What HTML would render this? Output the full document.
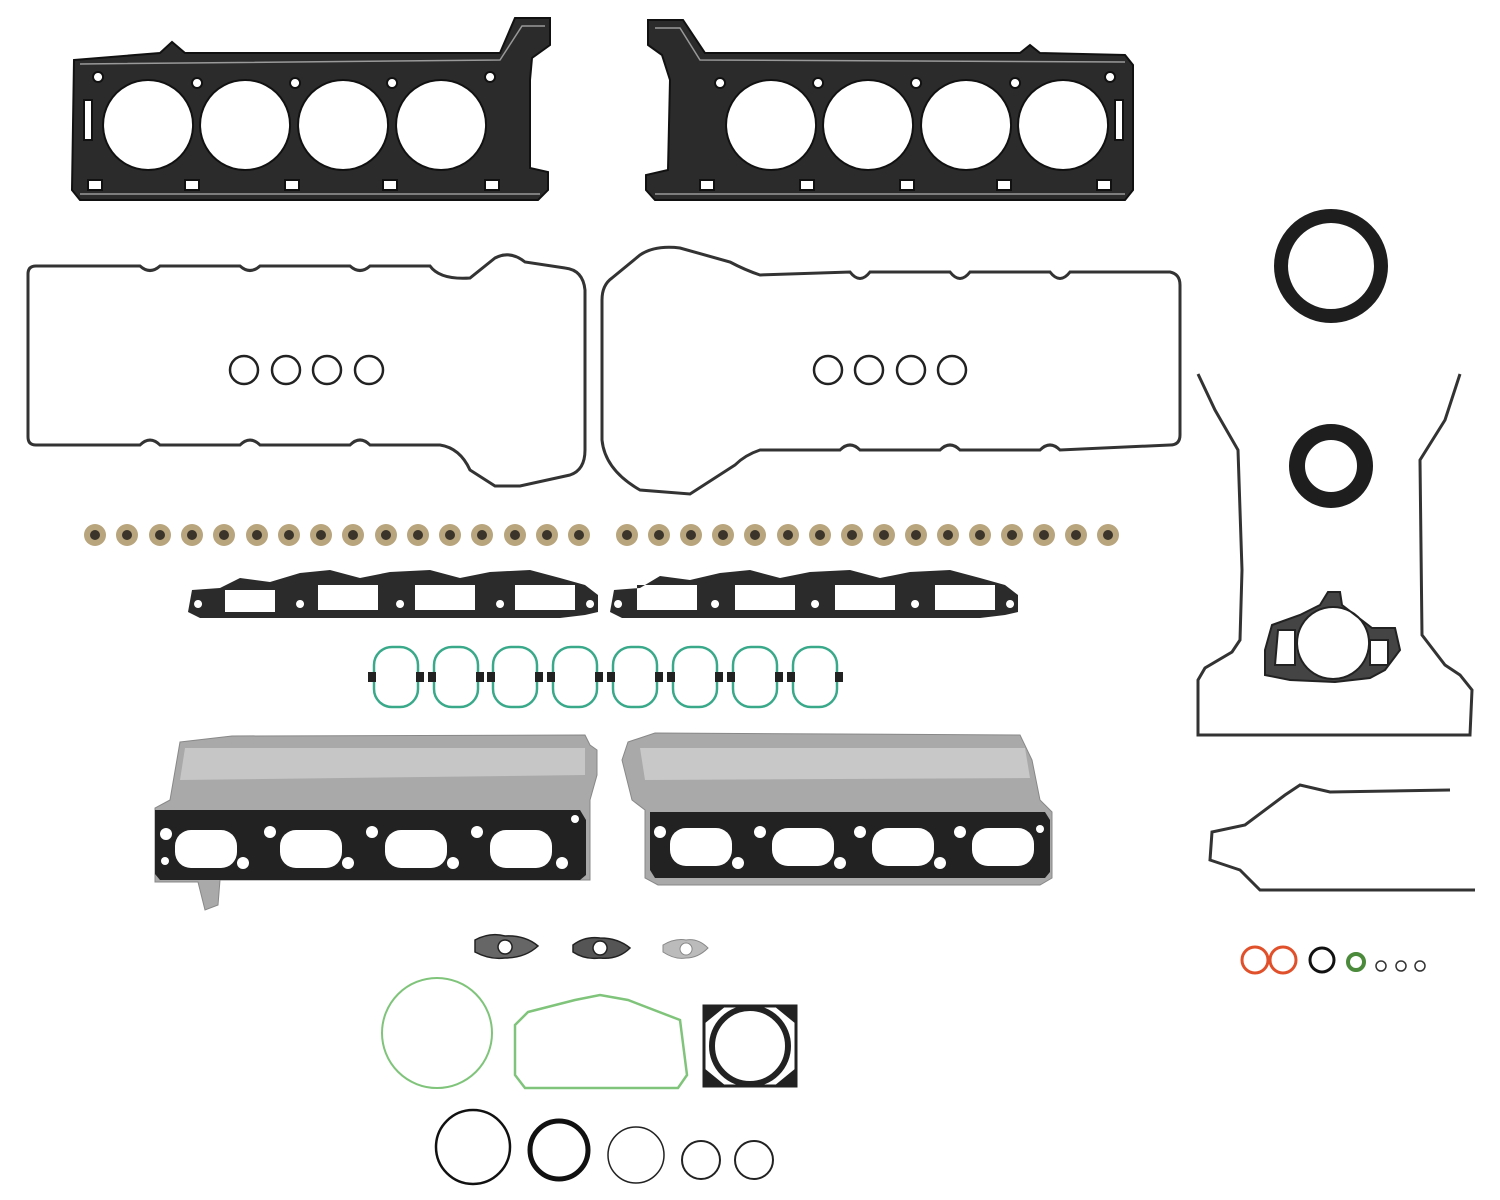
<!DOCTYPE html>
<html><head><meta charset="utf-8"><style>html,body{margin:0;padding:0;background:#fff;}svg{display:block}</style></head>
<body>
<svg width="1500" height="1200" viewBox="0 0 1500 1200" xmlns="http://www.w3.org/2000/svg">
<defs>
<g id="seal"><circle r="11" fill="#b8a57e"/><circle r="5" fill="#3a342a"/></g>
<g id="oring"><rect x="-22" y="-30" width="44" height="60" rx="18" fill="none" stroke="#3aa98a" stroke-width="2.5"/><rect x="-28" y="-5" width="8" height="10" fill="#222"/><rect x="20" y="-5" width="8" height="10" fill="#222"/></g>
</defs>

<!-- Head gasket left -->
<path fill-rule="evenodd" fill="#2b2b2b" stroke="#111" stroke-width="2" d="M74,60 L160,53 L172,42 L185,53 L500,53 L515,18 L550,18 L550,45 L532,58 L530,80 L530,168 L548,172 L548,190 L538,200 L80,200 L72,190 Z
M148,80 a45,45 0 1,0 0.1,0 Z M245,80 a45,45 0 1,0 0.1,0 Z M343,80 a45,45 0 1,0 0.1,0 Z M441,80 a45,45 0 1,0 0.1,0 Z
M84,100 h8 v40 h-8 Z M88,180 h14 v10 h-14 Z M185,180 h14 v10 h-14 Z M285,180 h14 v10 h-14 Z M383,180 h14 v10 h-14 Z M485,180 h14 v10 h-14 Z
M197,78 a5,5 0 1,0 0.1,0 Z M295,78 a5,5 0 1,0 0.1,0 Z M392,78 a5,5 0 1,0 0.1,0 Z M490,72 a5,5 0 1,0 0.1,0 Z M98,72 a5,5 0 1,0 0.1,0 Z"/>
<path fill="none" stroke="#999" stroke-width="1.5" d="M80,64 L500,60 L522,26 L545,26 M80,194 L540,194"/>
<!-- Head gasket right -->
<path fill-rule="evenodd" fill="#2b2b2b" stroke="#111" stroke-width="2" d="M648,20 L683,20 L705,53 L1020,53 L1030,45 L1040,53 L1125,55 L1133,65 L1133,190 L1125,200 L655,200 L646,190 L646,175 L668,170 L670,80 L662,55 L648,45 Z
M771,80 a45,45 0 1,0 0.1,0 Z M868,80 a45,45 0 1,0 0.1,0 Z M966,80 a45,45 0 1,0 0.1,0 Z M1063,80 a45,45 0 1,0 0.1,0 Z
M1115,100 h8 v40 h-8 Z M700,180 h14 v10 h-14 Z M800,180 h14 v10 h-14 Z M900,180 h14 v10 h-14 Z M997,180 h14 v10 h-14 Z M1097,180 h14 v10 h-14 Z
M720,78 a5,5 0 1,0 0.1,0 Z M818,78 a5,5 0 1,0 0.1,0 Z M916,78 a5,5 0 1,0 0.1,0 Z M1015,78 a5,5 0 1,0 0.1,0 Z M1110,72 a5,5 0 1,0 0.1,0 Z"/>
<path fill="none" stroke="#999" stroke-width="1.5" d="M655,28 L680,28 L700,60 L1125,62 M655,194 L1125,194"/>

<!-- Valve cover left -->
<path fill="none" stroke="#333" stroke-width="3" d="M36,266 L140,266 Q150,275 160,266 L240,266 Q250,275 260,266 L350,266 Q360,275 370,266 L430,266 Q440,280 470,278 L495,258 Q510,250 525,262 L565,268 Q583,270 585,290 L585,450 Q585,470 570,475 L520,486 L495,486 L470,470 Q460,448 440,445 L370,445 Q360,435 350,445 L260,445 Q250,435 240,445 L160,445 Q150,435 140,445 L36,445 Q28,445 28,437 L28,274 Q28,266 36,266 Z"/>
<circle cx="244" cy="370" r="14" fill="none" stroke="#222" stroke-width="2.5"/>
<circle cx="286" cy="370" r="14" fill="none" stroke="#222" stroke-width="2.5"/>
<circle cx="327" cy="370" r="14" fill="none" stroke="#222" stroke-width="2.5"/>
<circle cx="369" cy="370" r="14" fill="none" stroke="#222" stroke-width="2.5"/>
<!-- Valve cover right -->
<path fill="none" stroke="#333" stroke-width="3" d="M612,278 L640,255 Q655,245 680,248 L730,262 Q745,270 760,275 L850,272 Q860,285 870,272 L950,272 Q960,285 970,272 L1050,272 Q1060,285 1070,272 L1170,272 Q1180,274 1180,285 L1180,435 Q1180,445 1170,445 L1060,450 Q1050,440 1040,450 L960,450 Q950,440 940,450 L860,450 Q850,440 840,450 L760,450 Q745,455 735,465 L690,494 L640,490 Q605,470 602,440 L602,300 Q602,285 612,278 Z"/>
<circle cx="828" cy="370" r="14" fill="none" stroke="#222" stroke-width="2.5"/>
<circle cx="869" cy="370" r="14" fill="none" stroke="#222" stroke-width="2.5"/>
<circle cx="911" cy="370" r="14" fill="none" stroke="#222" stroke-width="2.5"/>
<circle cx="952" cy="370" r="14" fill="none" stroke="#222" stroke-width="2.5"/>

<!-- valve seals -->
<g>
<use href="#seal" x="95" y="535"/><use href="#seal" x="127" y="535"/><use href="#seal" x="160" y="535"/><use href="#seal" x="192" y="535"/><use href="#seal" x="224" y="535"/><use href="#seal" x="257" y="535"/><use href="#seal" x="289" y="535"/><use href="#seal" x="321" y="535"/><use href="#seal" x="353" y="535"/><use href="#seal" x="386" y="535"/><use href="#seal" x="418" y="535"/><use href="#seal" x="450" y="535"/><use href="#seal" x="482" y="535"/><use href="#seal" x="515" y="535"/><use href="#seal" x="547" y="535"/><use href="#seal" x="579" y="535"/>
<use href="#seal" x="627" y="535"/><use href="#seal" x="659" y="535"/><use href="#seal" x="691" y="535"/><use href="#seal" x="723" y="535"/><use href="#seal" x="755" y="535"/><use href="#seal" x="788" y="535"/><use href="#seal" x="820" y="535"/><use href="#seal" x="852" y="535"/><use href="#seal" x="884" y="535"/><use href="#seal" x="916" y="535"/><use href="#seal" x="948" y="535"/><use href="#seal" x="980" y="535"/><use href="#seal" x="1012" y="535"/><use href="#seal" x="1044" y="535"/><use href="#seal" x="1076" y="535"/><use href="#seal" x="1108" y="535"/>
</g>

<!-- intake gaskets -->
<path fill-rule="evenodd" fill="#2b2b2b" d="M192,590 L220,588 L240,578 L270,582 L300,573 L330,570 L360,578 L390,572 L430,570 L460,578 L490,572 L530,570 L560,578 L585,585 L598,595 L598,612 L585,615 L560,618 L200,618 L188,612 Z
M318,585 h60 v25 h-60 Z M415,585 h60 v25 h-60 Z M515,585 h60 v25 h-60 Z M225,590 h50 v22 h-50 Z M198,600 a4,4 0 1,0 .1,0 Z M590,600 a4,4 0 1,0 .1,0 Z M300,600 a4,4 0 1,0 .1,0 Z M400,600 a4,4 0 1,0 .1,0 Z M500,600 a4,4 0 1,0 .1,0 Z"/>
<path fill-rule="evenodd" fill="#2b2b2b" d="M614,590 L640,588 L660,576 L690,580 L720,573 L750,570 L780,578 L810,572 L850,570 L880,578 L910,572 L950,570 L980,578 L1005,585 L1018,595 L1018,612 L1005,615 L980,618 L622,618 L610,612 Z
M637,585 h60 v25 h-60 Z M735,585 h60 v25 h-60 Z M835,585 h60 v25 h-60 Z M935,585 h60 v25 h-60 Z M618,600 a4,4 0 1,0 .1,0 Z M1010,600 a4,4 0 1,0 .1,0 Z M715,600 a4,4 0 1,0 .1,0 Z M815,600 a4,4 0 1,0 .1,0 Z M915,600 a4,4 0 1,0 .1,0 Z"/>

<!-- green intake o-rings -->
<use href="#oring" x="396" y="677"/><use href="#oring" x="456" y="677"/><use href="#oring" x="515" y="677"/><use href="#oring" x="575" y="677"/><use href="#oring" x="635" y="677"/><use href="#oring" x="695" y="677"/><use href="#oring" x="755" y="677"/><use href="#oring" x="815" y="677"/>

<!-- exhaust heat shields -->
<path fill="#a9a9a9" stroke="#888" stroke-width="1" d="M180,742 L232,736 L585,735 L590,745 L597,750 L597,775 L590,800 L590,880 L220,880 L218,905 L205,910 L198,882 L155,882 L155,808 L170,800 Z"/>
<path fill="#c6c6c6" d="M185,748 L585,748 L585,775 L180,780 Z"/>
<path fill="#a9a9a9" stroke="#888" stroke-width="1" d="M628,742 L655,733 L1020,735 L1032,760 L1040,800 L1052,812 L1052,878 L1040,885 L658,885 L645,878 L645,810 L632,800 L622,760 Z"/>
<path fill="#c8c8c8" d="M640,748 L1025,748 L1030,778 L645,780 Z"/>
<path fill="#222" d="M155,810 L580,810 L586,820 L586,875 L580,880 L160,880 L155,874 Z"/>
<g fill="#fff">
<rect x="175" y="830" width="62" height="38" rx="16"/><rect x="280" y="830" width="62" height="38" rx="16"/><rect x="385" y="830" width="62" height="38" rx="16"/><rect x="490" y="830" width="62" height="38" rx="16"/>
<circle cx="166" cy="834" r="6"/><circle cx="270" cy="832" r="6"/><circle cx="372" cy="832" r="6"/><circle cx="477" cy="832" r="6"/><circle cx="243" cy="863" r="6"/><circle cx="348" cy="863" r="6"/><circle cx="453" cy="863" r="6"/><circle cx="562" cy="863" r="6"/><circle cx="575" cy="819" r="4"/><circle cx="165" cy="861" r="4"/>
</g>
<path fill="#222" d="M650,812 L1045,812 L1050,820 L1050,872 L1045,878 L655,878 L650,870 Z"/>
<g fill="#fff">
<rect x="670" y="828" width="62" height="38" rx="16"/><rect x="772" y="828" width="62" height="38" rx="16"/><rect x="872" y="828" width="62" height="38" rx="16"/><rect x="972" y="828" width="62" height="38" rx="16"/>
<circle cx="660" cy="832" r="6"/><circle cx="760" cy="832" r="6"/><circle cx="860" cy="832" r="6"/><circle cx="960" cy="832" r="6"/><circle cx="738" cy="863" r="6"/><circle cx="840" cy="863" r="6"/><circle cx="940" cy="863" r="6"/><circle cx="1040" cy="829" r="4"/>
</g>

<!-- small gaskets -->
<path fill-rule="evenodd" fill="#666" stroke="#222" stroke-width="1.5" d="M475,940 Q490,932 505,936 Q525,935 538,946 Q525,958 505,958 Q490,960 475,952 Z M505,940 a7,7 0 1,0 .1,0 Z"/>
<path fill-rule="evenodd" fill="#555" stroke="#222" stroke-width="1.5" d="M573,945 Q585,936 600,938 Q618,938 630,948 Q618,960 600,958 Q585,960 573,952 Z M600,941 a7,7 0 1,0 .1,0 Z"/>
<path fill-rule="evenodd" fill="#bbb" stroke="#888" stroke-width="1" d="M663,945 Q675,938 686,940 Q698,938 708,948 Q698,958 686,958 Q675,960 663,952 Z M686,943 a6,6 0 1,0 .1,0 Z"/>

<circle cx="437" cy="1033" r="55" fill="none" stroke="#7fc47a" stroke-width="2"/>
<path fill="none" stroke="#7fc47a" stroke-width="2.5" d="M528,1012 L575,1000 L600,995 L628,1000 L680,1020 L687,1075 L678,1088 L525,1088 L515,1075 L515,1025 Z"/>
<rect x="704" y="1006" width="92" height="80" fill="none" stroke="#222" stroke-width="3"/>
<path fill="#222" d="M704,1006 h22 l-22,18 Z M796,1006 h-22 l22,18 Z M704,1086 h22 l-22,-18 Z M796,1086 h-22 l22,-18 Z"/>
<circle cx="750" cy="1046" r="38" fill="none" stroke="#222" stroke-width="6"/>

<circle cx="473" cy="1147" r="37" fill="none" stroke="#111" stroke-width="2.5"/>
<circle cx="559" cy="1150" r="29" fill="none" stroke="#111" stroke-width="5"/>
<circle cx="636" cy="1155" r="28" fill="none" stroke="#222" stroke-width="1.5"/>
<circle cx="701" cy="1160" r="19" fill="none" stroke="#222" stroke-width="2"/>
<circle cx="754" cy="1160" r="19" fill="none" stroke="#222" stroke-width="2"/>

<!-- right side -->
<circle cx="1331" cy="266" r="50" fill="none" stroke="#1e1e1e" stroke-width="14"/>
<circle cx="1331" cy="466" r="34" fill="none" stroke="#1e1e1e" stroke-width="16"/>
<path fill="none" stroke="#333" stroke-width="3" d="M1198,374 L1215,410 L1238,450 L1242,570 L1240,640 L1232,652 L1205,668 L1198,680 L1198,735 L1470,735 L1472,690 L1460,675 L1445,665 L1422,635 L1420,460 L1445,420 L1460,374"/>
<path fill-rule="evenodd" fill="#444" stroke="#222" stroke-width="2" d="M1272,625 L1300,615 L1320,605 L1328,592 L1340,592 L1342,605 L1372,628 L1395,628 L1400,650 L1385,670 L1370,678 L1335,682 L1290,680 L1265,675 L1265,650 Z M1333,607 a36,36 0 1,0 .1,0 Z M1278,630 L1295,630 L1295,665 L1275,665 Z M1370,640 L1388,640 L1388,665 L1370,665 Z"/>
<path fill="none" stroke="#333" stroke-width="3" d="M1450,790 L1330,792 L1300,785 L1285,795 L1245,825 L1212,832 L1210,860 L1240,870 L1260,890 L1475,890"/>
<circle cx="1255" cy="960" r="13" fill="none" stroke="#e0502a" stroke-width="3"/>
<circle cx="1283" cy="960" r="13" fill="none" stroke="#e0502a" stroke-width="3"/>
<circle cx="1322" cy="960" r="12" fill="none" stroke="#111" stroke-width="3"/>
<circle cx="1356" cy="962" r="8" fill="none" stroke="#4a8a3a" stroke-width="4"/>
<circle cx="1381" cy="966" r="5" fill="none" stroke="#333" stroke-width="1.5"/>
<circle cx="1401" cy="966" r="5" fill="none" stroke="#333" stroke-width="1.5"/>
<circle cx="1420" cy="966" r="5" fill="none" stroke="#333" stroke-width="1.5"/>
</svg>
</body></html>
